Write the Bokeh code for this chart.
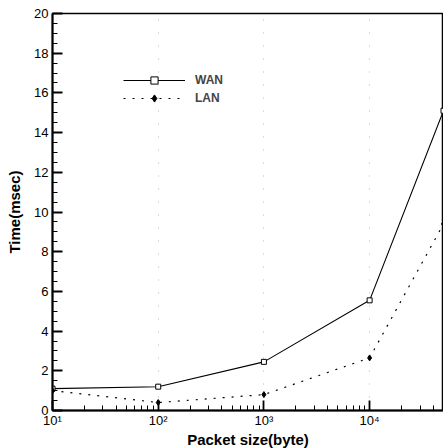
from bokeh.plotting import figure
from bokeh.models import Range1d, Legend, LegendItem, CustomJSTickFormatter, FixedTicker
from bokeh.embed import file_html
from bokeh.resources import INLINE

packet_size = [10, 100, 1000, 10000, 50000]
wan_time = [1.1, 1.2, 2.45, 5.55, 15.1]
lan_time = [1.0, 0.4, 0.8, 2.65, 9.4]
y_ticks = [0, 2, 4, 6, 8, 10, 12, 14, 16, 18, 20]

p = figure(x_axis_type="log", output_backend="svg", toolbar_location=None,
           frame_width=391, frame_height=397,
           min_border_left=52, min_border_right=0, min_border_top=13, min_border_bottom=36,
           x_range=Range1d(10, 50000), y_range=Range1d(0, 20))

p.background_fill_color = "white"
p.border_fill_color = "white"
p.outline_line_color = "black"
p.outline_line_width = 1.5

wl = p.line(packet_size, wan_time, line_color="black", line_width=1.1)
ws = p.scatter(packet_size, wan_time, marker="square", size=5, fill_color="white",
               line_color="black", line_width=1)
ll = p.line(packet_size, lan_time, line_color="black", line_width=1.2, line_dash="2 7")
ls = p.scatter(packet_size, lan_time, marker="diamond", size=6, fill_color="black",
               line_color="black")

legend = Legend(items=[LegendItem(label="WAN", renderers=[wl, ws]),
                       LegendItem(label="LAN", renderers=[ll, ls])],
                location=(71, 303))
legend.glyph_width = 62
legend.glyph_height = 18
legend.label_height = 18
legend.spacing = 0
legend.padding = 0
legend.margin = 0
legend.label_standoff = 10
legend.border_line_alpha = 0
legend.background_fill_alpha = 0
legend.label_text_font = "Liberation Sans"
legend.label_text_font_style = "bold"
legend.label_text_font_size = "12px"
p.add_layout(legend)

for ax in (p.xaxis[0], p.yaxis[0]):
    ax.axis_line_width = 2
    ax.axis_line_color = "black"
    ax.major_tick_in = 10
    ax.major_tick_out = 0
    ax.minor_tick_in = 5
    ax.minor_tick_out = 0
    ax.major_tick_line_width = 1.8
    ax.major_tick_line_color = "black"
    ax.minor_tick_line_width = 1
    ax.minor_tick_line_color = "black"
    ax.major_label_text_font = "Liberation Sans"
    ax.major_label_text_font_size = "13px"
    ax.major_label_text_color = "black"
    ax.axis_label_text_font = "Liberation Sans"
    ax.axis_label_text_font_style = "bold"
    ax.axis_label_text_font_size = "15px"
    ax.axis_label_text_color = "black"

p.xaxis.axis_label = "Packet size(byte)"
p.yaxis.axis_label = "Time(msec)"
p.xaxis.axis_label_standoff = 0
p.yaxis.axis_label_standoff = 8
p.xaxis.major_label_standoff = 2
p.yaxis.major_label_standoff = 4
p.xaxis.formatter = CustomJSTickFormatter(code="""
const sup = {'0':'\u2070','1':'\u00b9','2':'\u00b2','3':'\u00b3','4':'\u2074','5':'\u2075'};
const e = Math.round(Math.log10(tick));
return '10' + String(e).split('').map(c => sup[c]).join('');
""")
p.yaxis.ticker = FixedTicker(ticks=y_ticks, minor_ticks=[i * 0.5 for i in range(41)])

p.xgrid.grid_line_color = "#888888"
p.xgrid.grid_line_alpha = 0.6
p.xgrid.grid_line_dash = "1 12"
p.ygrid.grid_line_color = None

open("out.html", "w").write(file_html(p, INLINE))
